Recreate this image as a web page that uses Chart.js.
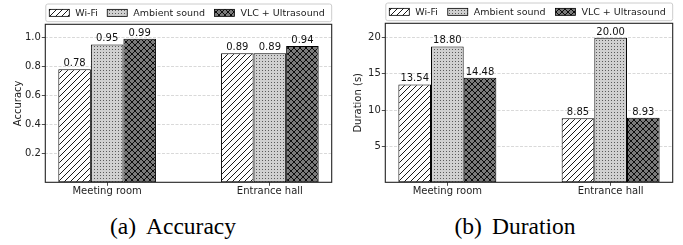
<!DOCTYPE html>
<html>
<head>
<meta charset="utf-8">
<script src="https://cdn.jsdelivr.net/npm/chart.js@4.4.0/dist/chart.umd.min.js"></script>
<style>
  body { margin: 0; background: #fff; width: 683px; height: 245px; overflow: hidden; position: relative; }
  canvas { position: absolute; top: 0; }
  .cap { position: absolute; top: 215px; font: 23.5px "Liberation Serif", serif; line-height: 23px;
         white-space: nowrap; transform: translateX(-50%); color: #000; }
  .cap span { margin-right: 10px; }
</style>
</head>
<body>
<canvas id="accChart" width="340" height="200" style="left:0"></canvas>
<canvas id="durChart" width="343" height="200" style="left:340px"></canvas>
<div class="cap" style="left:173px"><span>(a)</span>Accuracy</div>
<div class="cap" style="left:515px"><span>(b)</span>Duration</div>
<script>
var categories = ["Meeting room", "Entrance hall"];
var catPos = [0, 1];
var seriesNames = ["Wi-Fi", "Ambient sound", "VLC + Ultrasound"];

var accWifi = [0.78, 0.89];
var accAmbient = [0.95, 0.89];
var accVlc = [0.99, 0.94];
var accTicks = [0.2, 0.4, 0.6, 0.8, 1.0];

var durWifi = [13.54, 8.85];
var durAmbient = [18.80, 20.00];
var durVlc = [14.48, 8.93];
var durTicks = [5, 10, 15, 20];

Chart.defaults.font.family = "'DejaVu Sans', sans-serif";
Chart.defaults.color = '#222';

// hatch fills like matplotlib's '///', '...' and 'xx'
function makePattern(kind) {
  var c = document.createElement('canvas');
  var ctx = c.getContext('2d');
  if (kind === 'dots') {
    c.width = 3; c.height = 3;
    ctx.fillStyle = '#d0d0d0';
    ctx.fillRect(0, 0, 3, 3);
    ctx.fillStyle = '#5a5a5a';
    ctx.fillRect(1, 1, 1, 1);
  } else {
    c.width = 6; c.height = 6;
    ctx.fillStyle = kind === 'cross' ? '#7a7a7a' : '#ffffff';
    ctx.fillRect(0, 0, 6, 6);
    ctx.strokeStyle = '#000';
    ctx.lineWidth = 0.9;
    ctx.beginPath();
    ctx.moveTo(-1, 7); ctx.lineTo(7, -1);
    ctx.moveTo(-1, 1); ctx.lineTo(1, -1);
    ctx.moveTo(5, 7); ctx.lineTo(7, 5);
    if (kind === 'cross') {
      ctx.moveTo(-1, -1); ctx.lineTo(7, 7);
      ctx.moveTo(5, -1); ctx.lineTo(7, 1);
      ctx.moveTo(-1, 5); ctx.lineTo(1, 7);
    }
    ctx.stroke();
  }
  return ctx.createPattern(c, 'repeat');
}
var fills = [makePattern('diag'), makePattern('dots'), makePattern('cross')];

function toPoints(values) {
  return values.map(function (v, i) { return { x: catPos[i], y: v }; });
}

var frameAndLabels = {
  id: 'frameAndLabels',
  afterDatasetsDraw: function (chart) {
    var ctx = chart.ctx, a = chart.chartArea;
    ctx.save();
    // value labels
    ctx.font = '10px "DejaVu Sans"';
    ctx.fillStyle = '#111';
    ctx.textAlign = 'center';
    ctx.textBaseline = 'alphabetic';
    chart.data.datasets.forEach(function (ds, i) {
      chart.getDatasetMeta(i).data.forEach(function (bar, j) {
        ctx.fillText(ds.data[j].y.toFixed(2), bar.x, bar.y - 3);
      });
    });
    // axes frame
    ctx.strokeStyle = '#222';
    ctx.lineWidth = 1.1;
    ctx.strokeRect(a.left, a.top, a.right - a.left, a.bottom - a.top);

    // legend, stretched over the axes width
    var top = a.top - 20.3, bottom = a.top - 2.6;
    ctx.strokeStyle = '#cccccc';
    ctx.lineWidth = 1;
    ctx.beginPath();
    ctx.roundRect(a.left + 0.5, top, a.right - a.left - 0.5, bottom - top, 2);
    ctx.stroke();
    ctx.font = '9.5px "DejaVu Sans"';
    var sets = chart.data.datasets;
    var widths = sets.map(function (d) { return ctx.measureText(d.label).width; });
    var used = widths.reduce(function (s, w) { return s + w + 26; }, 0);
    var gap = (a.right - 7 - (a.left + 4) - used) / (sets.length - 1);
    var x = a.left + 4, cy = (top + bottom) / 2;
    ctx.textAlign = 'left';
    ctx.textBaseline = 'middle';
    sets.forEach(function (d, i) {
      ctx.fillStyle = d.backgroundColor;
      ctx.fillRect(x, cy - 3.5, 20, 7);
      ctx.strokeStyle = '#000';
      ctx.lineWidth = 0.8;
      ctx.strokeRect(x, cy - 3.5, 20, 7);
      ctx.fillStyle = '#222';
      ctx.fillText(d.label, x + 26, cy + 0.5);
      x += 26 + widths[i] + gap;
    });
    ctx.restore();
  }
};

function makeChart(id, series, ticks, yMax, yTitle, fmt, pad) {
  new Chart(id, {
    type: 'bar',
    data: {
      datasets: series.map(function (vals, i) {
        return {
          label: seriesNames[i],
          data: toPoints(vals),
          backgroundColor: fills[i],
          borderColor: '#000',
          borderWidth: 1,
          borderSkipped: false,
          categoryPercentage: 0.6,
          barPercentage: 1.0
        };
      })
    },
    options: {
      responsive: false,
      animation: false,
      layout: { padding: pad },
      plugins: { legend: { display: false }, tooltip: { enabled: false } },
      scales: {
        x: {
          type: 'linear',
          min: -0.38,
          max: 1.38,
          offset: false,
          afterBuildTicks: function (scale) {
            scale.ticks = catPos.map(function (v) { return { value: v }; });
          },
          afterFit: function (scale) { scale.height = 200 - 182.3; },
          ticks: {
            padding: 0,
            font: { size: 10 },
            callback: function (v, i) { return categories[i]; }
          },
          grid: { drawOnChartArea: false, offset: false, tickLength: 3.5, tickColor: '#222', tickWidth: 0.8 },
          border: { display: false }
        },
        y: {
          min: 0,
          max: yMax,
          afterBuildTicks: function (scale) {
            scale.ticks = ticks.map(function (v) { return { value: v }; });
          },
          afterFit: function (scale) { scale.width = 45.3 - pad.left; },
          ticks: { padding: 1, font: { size: 10 }, callback: fmt },
          grid: { color: '#cfcfcf', lineWidth: 0.8, tickLength: 3.5, tickColor: '#222', tickWidth: 0.8 },
          border: { display: false, dash: [3, 1.5] },
          title: { display: true, text: yTitle, font: { size: 10 }, padding: { top: 4, bottom: 2 } }
        }
      }
    },
    plugins: [frameAndLabels]
  });
}

makeChart('accChart', [accWifi, accAmbient, accVlc], accTicks, 1.089, 'Accuracy',
  function (v) { return v.toFixed(1); }, { top: 24.3, left: 8, right: 8.3, bottom: 0 });
makeChart('durChart', [durWifi, durAmbient, durVlc], durTicks, 22, 'Duration (s)',
  function (v) { return String(v); }, { top: 23.3, left: 8, right: 10.3, bottom: 0 });
</script>
</body>
</html>
